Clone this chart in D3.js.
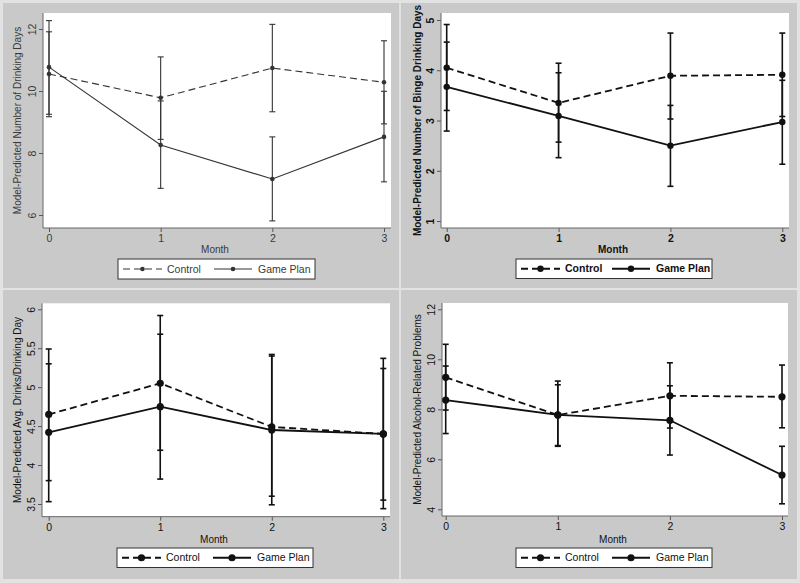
<!DOCTYPE html>
<html><head><meta charset="utf-8">
<script src="https://cdn.jsdelivr.net/npm/d3@7"></script>
<style>
body{margin:0;background:#e2e2e2;}
svg{display:block;font-family:"Liberation Sans",Arial,Helvetica,sans-serif;}
</style>
</head><body>
<svg id="c" width="800" height="583"></svg>
<script>
// ---------------- DATA ----------------
const months = [0, 1, 2, 3];
const monthLabels = ["0", "1", "2", "3"];
const seriesNames = ["Control", "Game Plan"];

// Panel A: Number of drinking days
const drinkDaysControl   = [10.55, 9.78, 10.74, 10.28];
const drinkDaysControlLo = [9.17, 8.44, 9.33, 8.94];
const drinkDaysControlHi = [11.91, 11.10, 12.15, 11.62];
const drinkDaysGame      = [10.77, 8.26, 7.16, 8.52];
const drinkDaysGameLo    = [9.25, 6.86, 5.81, 7.07];
const drinkDaysGameHi    = [12.27, 9.68, 8.52, 9.99];
const drinkDaysTicks     = [6, 8, 10, 12];

// Panel B: Number of binge drinking days
const bingeControl   = [4.05, 3.35, 3.89, 3.91];
const bingeControlLo = [3.20, 2.57, 3.03, 3.08];
const bingeControlHi = [4.91, 4.14, 4.74, 4.74];
const bingeGame      = [3.67, 3.09, 2.50, 2.97];
const bingeGameLo    = [2.79, 2.26, 1.69, 2.13];
const bingeGameHi    = [4.56, 3.95, 3.30, 3.80];
const bingeTicks     = [1, 2, 3, 4, 5];

// Panel C: Avg drinks per drinking day
const avgControl   = [4.65, 5.05, 4.49, 4.40];
const avgControlLo = [3.80, 4.19, 3.60, 3.55];
const avgControlHi = [5.49, 5.92, 5.40, 5.24];
const avgGame      = [4.42, 4.75, 4.45, 4.40];
const avgGameLo    = [3.53, 3.82, 3.49, 3.44];
const avgGameHi    = [5.30, 5.68, 5.42, 5.37];
const avgTicks     = [3.5, 4, 4.5, 5, 5.5, 6];
const avgTickLabels = ["3.5", "4", "4.5", "5", "5.5", "6"];

// Panel D: Alcohol-related problems
const probControl   = [9.28, 7.77, 8.54, 8.50];
const probControlLo = [7.97, 6.52, 7.25, 7.26];
const probControlHi = [10.60, 9.13, 9.86, 9.77];
const probGame      = [8.37, 7.78, 7.56, 5.37];
const probGameLo    = [7.03, 6.55, 6.17, 4.22];
const probGameHi    = [9.73, 8.98, 8.94, 6.52];
const probTicks     = [4, 6, 8, 10, 12];

const yTitles = [
  "Model-Predicted Number of Drinking Days",
  "Model-Predicted Number of Binge Drinking Days",
  "Model-Predicted Avg. Drinks/Drinking Day",
  "Model-Predicted Alcohol-Related Problems"
];
const xTitle = "Month";

// ---------------- PANELS (data + layout/style) ----------------
const panels = [
  { data: [[drinkDaysControl, drinkDaysControlLo, drinkDaysControlHi], [drinkDaysGame, drinkDaysGameLo, drinkDaysGameHi]],
    ticks: drinkDaysTicks, tickLabels: drinkDaysTicks.map(String), title: yTitles[0],
    bg: [3, 3, 396, 285], ox: 0, oy: 0,
    plot: [43, 13, 391, 228], xr: [49, 384], yd: [6, 12], yr: [215, 29],
    legend: [118, 259, 197, 20],
    weight: "normal", txt: "#3a3a3a", lw: 1.1, ink: "#333", r: 2.3, ebw: 1.1 },
  { data: [[bingeControl, bingeControlLo, bingeControlHi], [bingeGame, bingeGameLo, bingeGameHi]],
    ticks: bingeTicks, tickLabels: bingeTicks.map(String), title: yTitles[1],
    bg: [401, 3, 396, 285], ox: 400, oy: 0,
    plot: [41, 13, 389, 228], xr: [46.7, 382.3], yd: [1, 5], yr: [221, 20],
    legend: [116, 259, 196, 19.5],
    weight: "bold", txt: "#111", lw: 1.8, ink: "#111", r: 3.2, ebw: 1.6 },
  { data: [[avgControl, avgControlLo, avgControlHi], [avgGame, avgGameLo, avgGameHi]],
    ticks: avgTicks, tickLabels: avgTickLabels, title: yTitles[2],
    bg: [3, 290, 396, 289], ox: 0, oy: 290,
    plot: [42, 13.3, 390, 226.7], xr: [48.7, 383.3], yd: [3.5, 6], yr: [214, 19.3],
    legend: [117, 258, 196, 19.5],
    weight: "normal", txt: "#111", lw: 1.8, ink: "#111", r: 3.6, ebw: 1.6 },
  { data: [[probControl, probControlLo, probControlHi], [probGame, probGameLo, probGameHi]],
    ticks: probTicks, tickLabels: probTicks.map(String), title: yTitles[3],
    bg: [401, 290, 396, 289], ox: 400, oy: 290,
    plot: [42, 13, 388, 226], xr: [45.7, 382], yd: [4, 12], yr: [219.3, 19.3],
    legend: [116, 258, 196, 19.5],
    weight: "normal", txt: "#111", lw: 1.8, ink: "#111", r: 3.6, ebw: 1.6 }
];

const svg = d3.select("#c");
svg.append("rect").attr("width", 800).attr("height", 583).attr("fill", "#e2e2e2");

const dashes = ["7,4", null];

panels.forEach(p => {
  svg.append("rect").attr("x", p.bg[0]).attr("y", p.bg[1]).attr("width", p.bg[2]).attr("height", p.bg[3])
    .attr("fill", "#c9c9c9");
  const g = svg.append("g").attr("transform", `translate(${p.ox},${p.oy})`);
  const [L, T, R, B] = p.plot;
  g.append("rect").attr("x", L).attr("y", T).attr("width", R - L).attr("height", B - T).attr("fill", "#fff");

  const x = d3.scaleLinear().domain([0, 3]).range(p.xr);
  const y = d3.scaleLinear().domain(p.yd).range(p.yr);

  // y axis
  const ya = g.append("g").attr("transform", `translate(${L},0)`)
    .call(d3.axisLeft(y).tickValues(p.ticks).tickFormat((d, i) => p.tickLabels[i]).tickSize(4).tickSizeOuter(0));
  ya.select(".domain").remove();
  ya.append("line").attr("y1", T).attr("y2", B).attr("stroke", "#666").attr("stroke-width", 1);
  ya.selectAll(".tick line").attr("stroke", "#555");
  ya.selectAll(".tick text")
    .attr("transform", "rotate(-90)")
    .attr("x", 0).attr("y", -7).attr("dy", 0)
    .attr("text-anchor", "middle")
    .attr("font-size", 10.5).attr("font-weight", p.weight).attr("fill", p.txt)
    .attr("font-family", "'Liberation Sans',Arial,sans-serif");

  // x axis
  const xa = g.append("g").attr("transform", `translate(0,${B})`)
    .call(d3.axisBottom(x).tickValues(months).tickFormat((d, i) => monthLabels[i]).tickSize(4).tickSizeOuter(0));
  xa.select(".domain").remove();
  xa.append("line").attr("x1", L).attr("x2", R).attr("stroke", "#666").attr("stroke-width", 1);
  xa.selectAll(".tick line").attr("stroke", "#555");
  xa.selectAll(".tick text").attr("y", 7).attr("dy", "0.71em")
    .attr("font-size", 10.5).attr("font-weight", p.weight).attr("fill", p.txt)
    .attr("font-family", "'Liberation Sans',Arial,sans-serif");

  // titles
  g.append("text").attr("transform", `translate(21,${(T + B) / 2}) rotate(-90)`)
    .attr("text-anchor", "middle").attr("font-size", 10).attr("font-weight", p.weight).attr("fill", p.txt)
    .text(p.title);
  g.append("text").attr("x", (L + R) / 2 - 2).attr("y", 253)
    .attr("text-anchor", "middle").attr("font-size", 10).attr("font-weight", p.weight).attr("fill", p.txt)
    .text(xTitle);

  // series
  p.data.forEach((s, si) => {
    const [vals, lo, hi] = s;
    // error bars
    months.forEach((m, i) => {
      const cx = x(m);
      g.append("line").attr("x1", cx).attr("x2", cx).attr("y1", y(lo[i])).attr("y2", y(hi[i]))
        .attr("stroke", p.ink).attr("stroke-width", p.ebw);
      [lo[i], hi[i]].forEach(v => {
        g.append("line").attr("x1", cx - 3).attr("x2", cx + 3).attr("y1", y(v)).attr("y2", y(v))
          .attr("stroke", p.ink).attr("stroke-width", p.ebw);
      });
    });
    const line = d3.line().x((d, i) => x(months[i])).y(d => y(d));
    g.append("path").datum(vals).attr("d", line).attr("fill", "none")
      .attr("stroke", p.ink).attr("stroke-width", p.lw)
      .attr("stroke-dasharray", dashes[si]);
    g.selectAll(null).data(vals).enter().append("circle")
      .attr("cx", (d, i) => x(months[i])).attr("cy", d => y(d)).attr("r", p.r).attr("fill", p.ink);
  });

  // legend
  const [lx, ly, lw, lh] = p.legend;
  const lg = g.append("g");
  lg.append("rect").attr("x", lx).attr("y", ly).attr("width", lw).attr("height", lh)
    .attr("fill", "#fff").attr("stroke", "#333").attr("stroke-width", 1);
  const cy = ly + lh / 2;
  const items = [{ x0: lx + 5, x1: lx + 44, tx: lx + 49 }, { x0: lx + 96, x1: lx + 134, tx: lx + 140 }];
  items.forEach((it, si) => {
    lg.append("line").attr("x1", it.x0).attr("x2", it.x1).attr("y1", cy).attr("y2", cy)
      .attr("stroke", p.ink).attr("stroke-width", p.lw).attr("stroke-dasharray", dashes[si]);
    lg.append("circle").attr("cx", (it.x0 + it.x1) / 2).attr("cy", cy).attr("r", p.r).attr("fill", p.ink);
    lg.append("text").attr("x", it.tx).attr("y", cy).attr("dy", "0.35em")
      .attr("font-size", 10.5).attr("font-weight", p.weight === "bold" ? "bold" : "normal").attr("fill", p.txt)
      .text(seriesNames[si]);
  });
});
</script>
</body></html>
